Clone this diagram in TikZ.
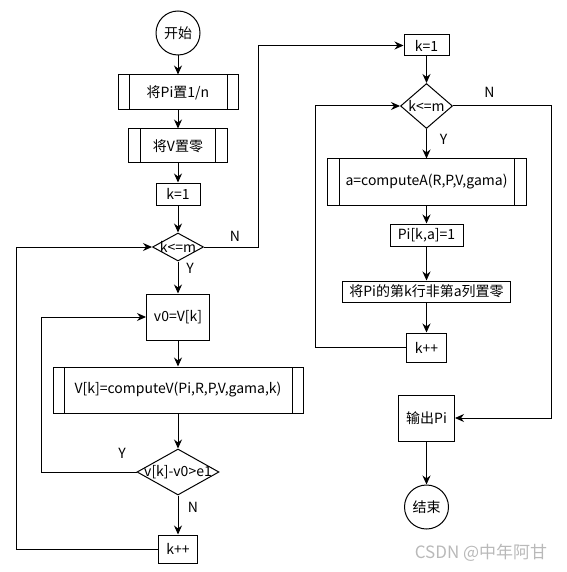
\documentclass[tikz,border=0pt]{standalone}
\usepackage{fontspec}
\setmainfont{Noto Sans CJK SC}
\usetikzlibrary{shapes.geometric, positioning, arrows.meta}

\begin{document}
\begin{tikzpicture}[
    x=1pt, y=1pt,
    node distance=50pt,
    on grid,
    font=\fontsize{14}{16}\selectfont,
    line width=1pt,
    >={Stealth[length=9pt, width=8pt]},
    terminal/.style={circle, draw, minimum size=44pt, inner sep=0pt},
    process/.style={rectangle, draw, inner sep=0pt},
    subproc/.style={process, path picture={
        \draw ([xshift=#1]path picture bounding box.north west) -- ([xshift=#1]path picture bounding box.south west);
        \draw ([xshift=-#1]path picture bounding box.north east) -- ([xshift=-#1]path picture bounding box.south east);}},
    subproc/.default=11pt,
    decision/.style={diamond, draw, inner sep=0pt},
    branch/.style={inner sep=0pt}
]
   \useasboundingbox (0,0) rectangle (566,-572);

   % Left column: value iteration
   \node[terminal] (start) at (178,-33) {开始};
   \node[subproc, minimum width=120pt, minimum height=35pt] (initpi) [below=59.5pt of start] {将Pi置1/n};
   \node[subproc=12pt, minimum width=99pt, minimum height=34pt] (initv) [below=53.5pt of initpi] {将V置零};
   \node[process, minimum width=44pt, minimum height=22pt] (k1) [below=48pt of initv] {k=1};
   \node[decision, minimum width=51pt, minimum height=28pt, label=center:{k<=m}] (outer) [below=53pt of k1] {};
   \node[process, minimum width=63pt, minimum height=46pt] (v0) [below=70pt of outer] {v0=V[k]};
   \node[subproc, minimum width=250pt, minimum height=46pt] (compv) [below=73pt of v0] {V[k]=computeV(Pi,R,P,V,gama,k)};
   \node[decision, minimum width=82pt, minimum height=46pt, label=center:{v[k]-v0>e1}] (conv) [below=82pt of compv] {};
   \node[process, minimum width=39pt, minimum height=28pt] (kinc) [below=77pt of conv] {k++};

   % Right column: policy update
   \node[process, minimum width=45pt, minimum height=21pt] (k1b) at (426.5,-45.5) {k=1};
   \node[decision, minimum width=52pt, minimum height=45pt, label=center:{k<=m}] (rows) [below=60.5pt of k1b] {};
   \node[subproc=12pt, minimum width=199pt, minimum height=46pt] (compa) [below=76pt of rows] {a=computeA(R,P,V,gama)};
   \node[process, minimum width=73pt, minimum height=22pt] (setpi) [below=53pt of compa] {Pi[k,a]=1};
   \node[process, minimum width=168pt, minimum height=21pt] (zero) [below=56.5pt of setpi] {将Pi的第k行非第a列置零};
   \node[process, minimum width=40pt, minimum height=29pt] (kinc2) [below=56pt of zero] {k++};
   \node[process, minimum width=56pt, minimum height=46pt] (out) [below=70.5pt of kinc2] {输出Pi};
   \node[terminal] (stop) [below=89pt of out] {结束};

   % Branch labels
   \node[branch] (n1) at ([shift={(57,11)}]outer.center) {N};
   \node[branch] (y1) at ([shift={(12,-21)}]outer.center) {Y};
   \node[branch] (y2) at ([shift={(-56,19)}]conv.center) {Y};
   \node[branch] (n2) at ([shift={(15,-35)}]conv.center) {N};
   \node[branch] (n3) at ([shift={(63,14)}]rows.center) {N};
   \node[branch] (y3) at ([shift={(17,-33)}]rows.center) {Y};

   % Transitions
   \path[->]
   (start) edge (initpi)
   (initpi) edge (initv)
   (initv) edge (k1)
   (k1) edge (outer)
   (outer) edge (v0)
   (v0) edge (compv)
   (compv) edge (conv)
   (conv) edge (kinc)

   (k1b) edge (rows)
   (rows) edge (compa)
   (compa) edge (setpi)
   (setpi) edge (zero)
   (zero) edge (kinc2)
   (out) edge (stop);

   \draw[->] (conv.west) -- ++(-95,0) |- (v0.west);
   \draw[->] (kinc.west) -- ++(-142,0) |- (outer.west);
   \draw[->] (outer.east) -- ++(54,0) |- (k1b.west);
   \draw[->] (kinc2.west) -- ++(-91,0) |- (rows.west);
   \draw[->] (rows.east) -- ++(98,0) |- (out.east);

   % watermark
   \node[anchor=east, text=gray!55, font=\fontsize{17}{19}\selectfont] (mark) at (551,-553) {CSDN @中年阿甘};
\end{tikzpicture}
\end{document}
